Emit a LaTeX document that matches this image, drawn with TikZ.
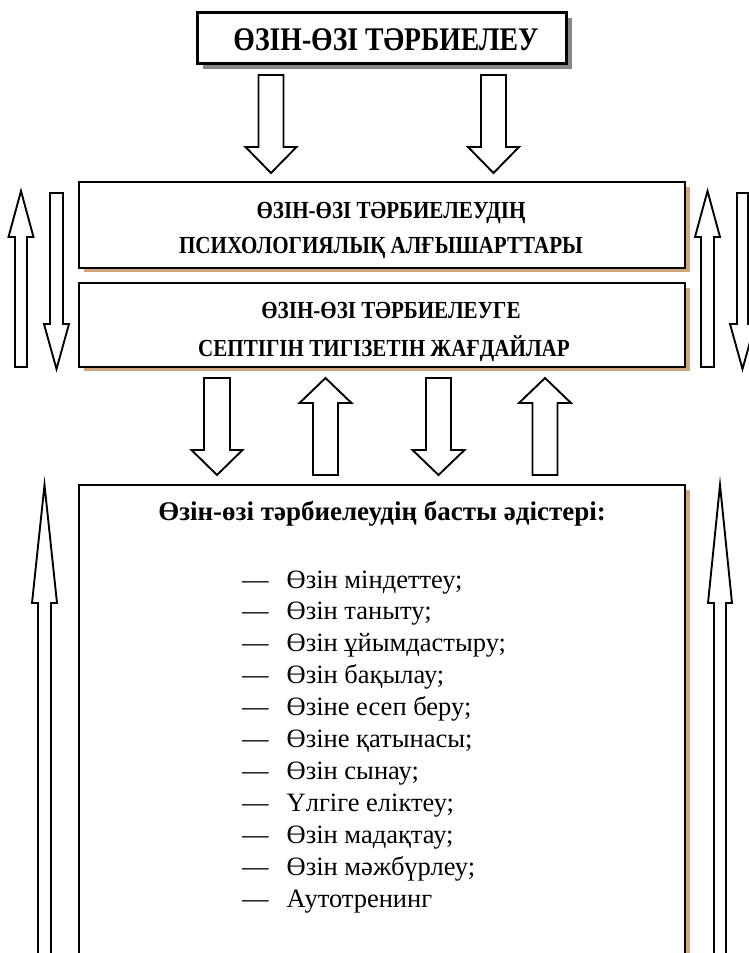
\documentclass[tikz,border=0pt]{standalone}
\usepackage{fontspec}
\setmainfont{Liberation Serif}
\newfontfamily\condfont{Liberation Serif}[FakeStretch=0.86]
\newfontfamily\titlecond{Liberation Serif}[FakeStretch=0.84]
\definecolor{shadowtan}{RGB}{207,165,128}
\definecolor{shadowgray}{RGB}{135,135,135}
\newcommand{\fatarrow}[6]{% #1 cx, #2 tail y, #3 head-base y, #4 tip y, #5 half shaft, #6 half head
  \draw[arrowline] ({#1-#5},#2) -- ({#1+#5},#2) -- ({#1+#5},#3) -- ({#1+#6},#3) -- (#1,#4)
    -- ({#1-#6},#3) -- ({#1-#5},#3) -- cycle;}
\begin{document}
\begin{tikzpicture}[x=1pt,y=-1pt,
  arrowline/.style={draw=black, line width=1.9pt, fill=white, line join=miter},
  boxline/.style={draw=black, line width=2.6pt, fill=white, inner sep=0pt},
  titlefont/.style={font=\titlecond\bfseries\fontsize{33}{33}\selectfont},
  capsfont/.style={font=\condfont\bfseries\fontsize{24.5}{24.5}\selectfont},
  headfont/.style={font=\bfseries\fontsize{27}{27}\selectfont},
  listfont/.style={font=\fontsize{26.5}{31.9}\selectfont}]
\useasboundingbox (0,0) rectangle (749,953);
\clip (0,0) rectangle (749,953);
\fill[white] (0,0) rectangle (749,953);

% shadows
\fill[shadowgray] (203,18) rectangle (572,69);
\fill[shadowtan] (84,187) rectangle (690,272);
\fill[shadowtan] (84,288) rectangle (690,371);
\fill[shadowtan] (84,490) rectangle (690,975);

% boxes
\node[boxline, line width=3pt, minimum width=369pt, minimum height=51pt] (title) at (381.5,37.5) {};
\node[titlefont, anchor=base] (titletext) at (386,50) {ӨЗІН-ӨЗІ ТӘРБИЕЛЕУ};

\node[boxline, minimum width=606pt, minimum height=86pt] (psy) at (382,225) {};
\node[capsfont, anchor=base] (psy1) at (391,218) {ӨЗІН-ӨЗІ ТӘРБИЕЛЕУДІҢ};
\node[capsfont, anchor=base] (psy2) at (381,253) {ПСИХОЛОГИЯЛЫҚ АЛҒЫШАРТТАРЫ};

\node[boxline, minimum width=606pt, minimum height=84pt] (cond) at (382,325) {};
\node[capsfont, anchor=base] (cond1) at (391,318) {ӨЗІН-ӨЗІ ТӘРБИЕЛЕУГЕ};
\node[capsfont, anchor=base] (cond2) at (384,356) {СЕПТІГІН ТИГІЗЕТІН ЖАҒДАЙЛАР};

\node[boxline, minimum width=606pt, minimum height=490pt] (meth) at (382,730) {};
\node[headfont, anchor=base] (methhead) at (382,520) {Өзін-өзі тәрбиелеудің басты әдістері:};
\node[listfont, anchor=base west, inner sep=0pt] (methlist) at (242,588) {%
  \begin{tabular}[t]{@{}l@{\hspace{18pt}}l@{}}
  — & Өзін міндеттеу;\\
  — & Өзін таныту;\\
  — & Өзін ұйымдастыру;\\
  — & Өзін бақылау;\\
  — & Өзіне есеп беру;\\
  — & Өзіне қатынасы;\\
  — & Өзін сынау;\\
  — & Үлгіге еліктеу;\\
  — & Өзін мадақтау;\\
  — & Өзін мәжбүрлеу;\\
  — & Аутотренинг
  \end{tabular}};

% arrows from title
\fatarrow{271}{75}{147}{173}{12.5}{25.5}
\fatarrow{493.5}{75}{147}{173}{12.5}{25.5}
% side arrows near upper boxes
\fatarrow{21}{367}{237}{191}{6}{12.5}
\fatarrow{56.5}{193}{324}{369}{6.5}{12.5}
\fatarrow{707.5}{367}{237}{191}{6.5}{12.5}
\fatarrow{742.5}{193}{324}{369}{5.5}{12.5}
% middle arrows
\fatarrow{217}{378}{450}{475}{13}{25.5}
\fatarrow{325.5}{475}{403}{378}{12.5}{26}
\fatarrow{438.5}{378}{450}{475}{12.5}{26}
\fatarrow{545}{475}{403}{378}{12.5}{26}
% long arrows
\fatarrow{44.5}{975}{603}{485}{6.5}{12.5}
\fatarrow{720}{975}{603}{485}{6}{12}
\end{tikzpicture}
\end{document}
